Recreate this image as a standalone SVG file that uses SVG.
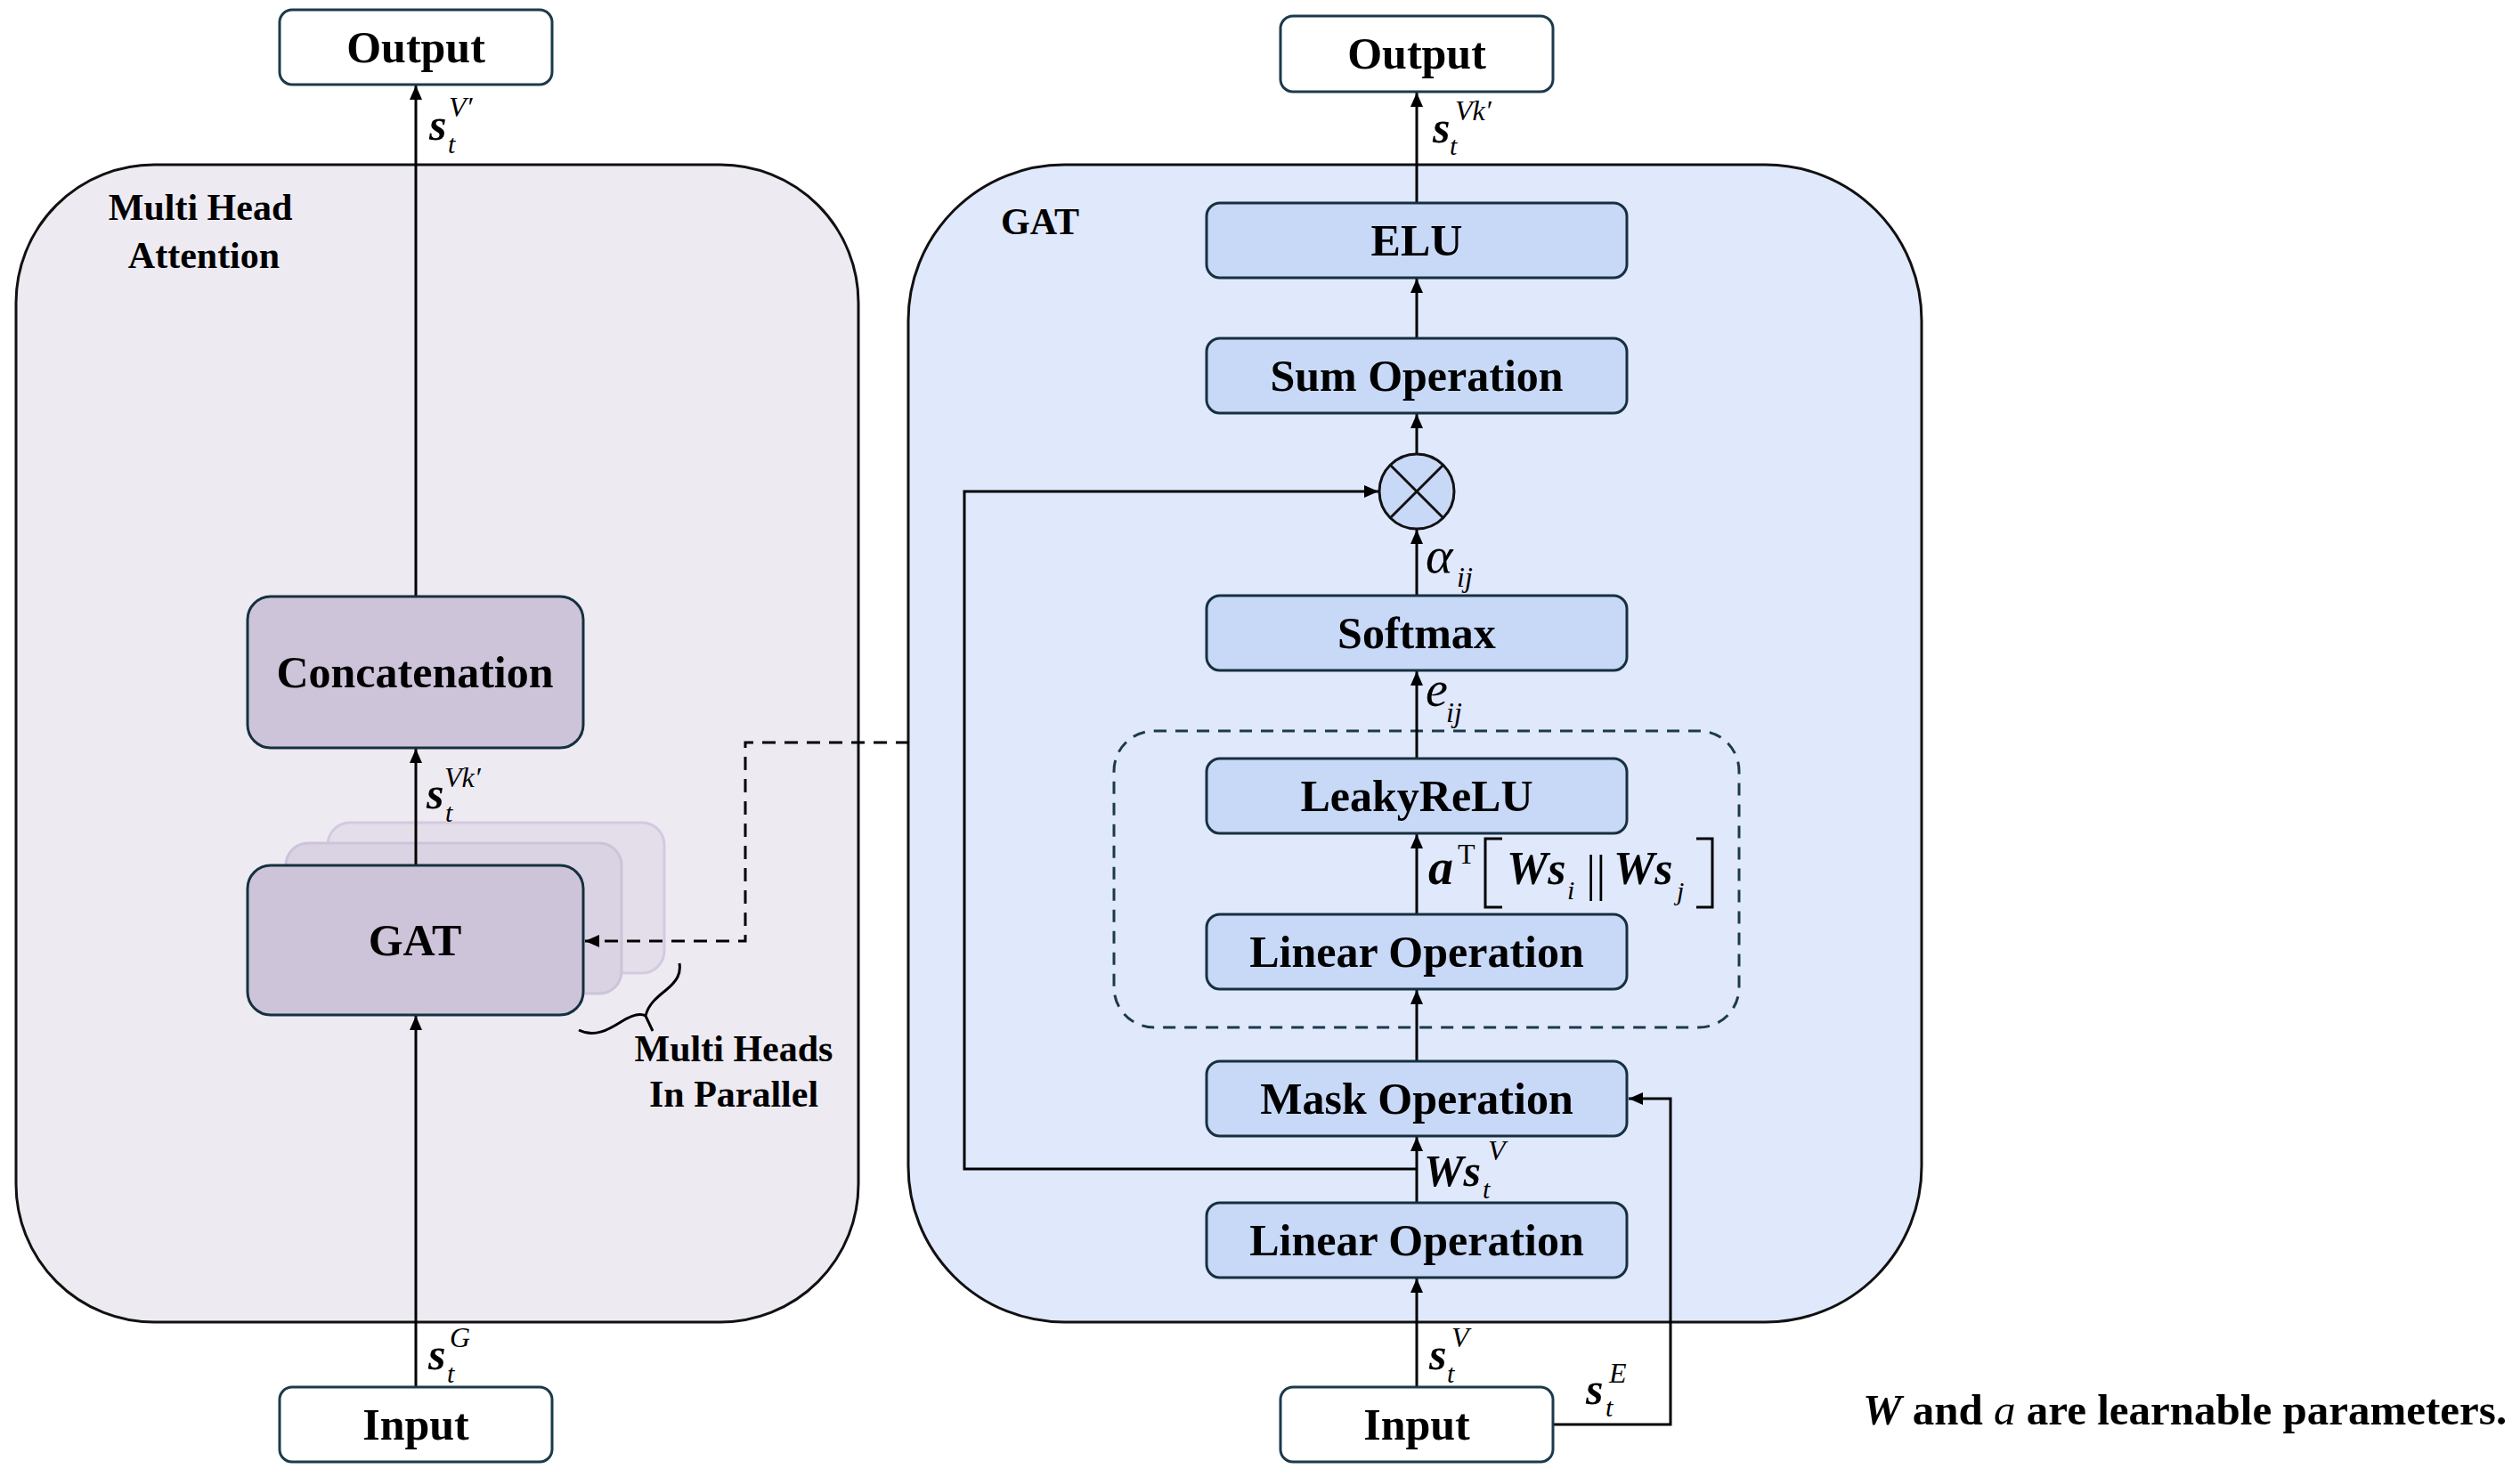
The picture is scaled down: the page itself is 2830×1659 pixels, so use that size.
<svg xmlns="http://www.w3.org/2000/svg" width="2830" height="1659" viewBox="0 0 2830 1659">
<defs>
<marker id="arr" markerUnits="userSpaceOnUse" markerWidth="16" markerHeight="14" refX="16" refY="7" orient="auto">
<path d="M0,0 L16,7 L0,14 z" fill="#000"/>
</marker>
<style>
.lbl{font-family:"Liberation Serif","Times New Roman",serif;font-weight:bold;font-size:50px;fill:#000;text-anchor:middle}
.ttl{font-family:"Liberation Serif","Times New Roman",serif;font-weight:bold;font-size:42px;fill:#000}
.m{font-family:"Liberation Serif","Times New Roman",serif;fill:#000}
.bi{font-weight:bold;font-style:italic}
.it{font-style:italic}
.io{fill:#fff;stroke:#1c3a4c;stroke-width:3}
.ln{fill:#cec4d9;stroke:#15303f;stroke-width:3}
.rn{fill:#c8d8f7;stroke:#15303f;stroke-width:3}
.con{fill:none;stroke:#000;stroke-width:3}
</style>
</defs>
<rect width="2830" height="1659" fill="#fff"/>

<g id="container-multihead">
<rect x="18" y="185" width="946" height="1300" rx="155" ry="155" fill="#edeaf2" stroke="#111" stroke-width="3"/>
<text class="ttl" x="225" y="247" text-anchor="middle">Multi Head</text>
<text class="ttl" x="229" y="301" text-anchor="middle">Attention</text>
</g>
<g id="container-gat">
<rect x="1020" y="185" width="1138" height="1300" rx="175" ry="175" fill="#e0e8fc" stroke="#111" stroke-width="3"/>
<text class="ttl" x="1124" y="263">GAT</text>
</g>
<g id="dashed-group">
<rect x="1251" y="821" width="702" height="333" rx="45" ry="45" fill="none" stroke="#1c3a4c" stroke-width="3" stroke-dasharray="14,10"/>
</g>

<g id="heads-shadow">
<rect x="368" y="924" width="378" height="169" rx="25" fill="#e4deea" stroke="#d3cadf" stroke-width="3"/>
<rect x="321" y="947" width="377" height="169" rx="25" fill="#dad3e3" stroke="#cdc3da" stroke-width="3"/>
</g>

<g id="connectors">
<line class="con" x1="467" y1="670" x2="467" y2="96" marker-end="url(#arr)"/>
<line class="con" x1="467" y1="972" x2="467" y2="841" marker-end="url(#arr)"/>
<line class="con" x1="467" y1="1558" x2="467" y2="1141" marker-end="url(#arr)"/>
<polyline class="con" points="1021,834 837,834 837,1057 657,1057" stroke-dasharray="15,10" marker-end="url(#arr)"/>
<line class="con" x1="1591" y1="228" x2="1591" y2="104" marker-end="url(#arr)"/>
<line class="con" x1="1591" y1="380" x2="1591" y2="313" marker-end="url(#arr)"/>
<line class="con" x1="1591" y1="510" x2="1591" y2="465" marker-end="url(#arr)"/>
<line class="con" x1="1591" y1="669" x2="1591" y2="595" marker-end="url(#arr)"/>
<line class="con" x1="1591" y1="852" x2="1591" y2="754" marker-end="url(#arr)"/>
<line class="con" x1="1591" y1="1027" x2="1591" y2="937" marker-end="url(#arr)"/>
<line class="con" x1="1591" y1="1192" x2="1591" y2="1112" marker-end="url(#arr)"/>
<line class="con" x1="1591" y1="1351" x2="1591" y2="1277" marker-end="url(#arr)"/>
<line class="con" x1="1591" y1="1558" x2="1591" y2="1436" marker-end="url(#arr)"/>
<polyline class="con" points="1591,1313 1083,1313 1083,552 1548,552" marker-end="url(#arr)"/>
<polyline class="con" points="1743,1600 1876,1600 1876,1234 1829,1234" marker-end="url(#arr)"/>
<path class="con" d="M650,1157 C668,1166 684,1156 697,1148 C708,1141 718,1137 725,1141 L733,1158 M725,1141 C728,1128 738,1120 748,1112 C760,1102 765,1094 763,1082"/>
</g>

<g id="left-output">
<rect class="io" x="314" y="11" width="306" height="84" rx="14"/>
<text class="lbl" x="467" y="70">Output</text>
</g>
<g id="left-concat">
<rect class="ln" x="278" y="670" width="377" height="170" rx="26"/>
<text class="lbl" x="466" y="772">Concatenation</text>
</g>
<g id="left-gat">
<rect class="ln" x="278" y="972" width="377" height="168" rx="26"/>
<text class="lbl" x="466" y="1073">GAT</text>
</g>
<g id="left-input">
<rect class="io" x="314" y="1558" width="306" height="84" rx="14"/>
<text class="lbl" x="467" y="1617">Input</text>
</g>
<g id="multi-heads-label">
<text class="ttl" x="824" y="1192" text-anchor="middle">Multi Heads</text>
<text class="ttl" x="824" y="1243" text-anchor="middle">In Parallel</text>
</g>

<g id="right-output">
<rect class="io" x="1438" y="18" width="306" height="85" rx="14"/>
<text class="lbl" x="1591" y="77">Output</text>
</g>
<g id="elu">
<rect class="rn" x="1355" y="228" width="472" height="84" rx="15"/>
<text class="lbl" x="1591" y="287">ELU</text>
</g>
<g id="sum">
<rect class="rn" x="1355" y="380" width="472" height="84" rx="15"/>
<text class="lbl" x="1591" y="439">Sum Operation</text>
</g>
<g id="multiply">
<circle cx="1591" cy="552" r="42" fill="#c8d8f7" stroke="#111" stroke-width="3"/>
<path d="M1561,522 L1621,582 M1621,522 L1561,582" stroke="#111" stroke-width="3"/>
</g>
<g id="softmax">
<rect class="rn" x="1355" y="669" width="472" height="84" rx="15"/>
<text class="lbl" x="1591" y="728">Softmax</text>
</g>
<g id="leakyrelu">
<rect class="rn" x="1355" y="852" width="472" height="84" rx="15"/>
<text class="lbl" x="1591" y="911">LeakyReLU</text>
</g>
<g id="linear1">
<rect class="rn" x="1355" y="1027" width="472" height="84" rx="15"/>
<text class="lbl" x="1591" y="1086">Linear Operation</text>
</g>
<g id="mask">
<rect class="rn" x="1355" y="1192" width="472" height="84" rx="15"/>
<text class="lbl" x="1591" y="1251">Mask Operation</text>
</g>
<g id="linear2">
<rect class="rn" x="1355" y="1351" width="472" height="84" rx="15"/>
<text class="lbl" x="1591" y="1410">Linear Operation</text>
</g>
<g id="right-input">
<rect class="io" x="1438" y="1558" width="306" height="84" rx="14"/>
<text class="lbl" x="1591" y="1617">Input</text>
</g>

<g id="math-labels">
<text class="m bi" x="482" y="157" font-size="50">s</text>
<text class="m it" x="504" y="131" font-size="32">V′</text>
<text class="m it" x="503" y="172" font-size="30">t</text>

<text class="m bi" x="479" y="908" font-size="50">s</text>
<text class="m it" x="499" y="884" font-size="32">Vk′</text>
<text class="m it" x="500" y="923" font-size="30">t</text>

<text class="m bi" x="481" y="1538" font-size="50">s</text>
<text class="m it" x="505" y="1513" font-size="32">G</text>
<text class="m it" x="502" y="1553" font-size="30">t</text>

<text class="m bi" x="1609" y="160" font-size="50">s</text>
<text class="m it" x="1634" y="135" font-size="32">Vk′</text>
<text class="m it" x="1628" y="174" font-size="30">t</text>

<text class="m it" x="1601" y="643" font-size="58">α</text>
<text class="m it" x="1636" y="659" font-size="32">ij</text>

<text class="m it" x="1601" y="793" font-size="56">e</text>
<text class="m it" x="1624" y="811" font-size="32">ij</text>

<text class="m bi" x="1604" y="993" font-size="56">a</text>
<text class="m" x="1637" y="970" font-size="32">T</text>
<path d="M1687,942 L1668,942 L1668,1019 L1687,1019 M1905,942 L1923,942 L1923,1019 L1905,1019" fill="none" stroke="#000" stroke-width="3"/>
<text class="m bi" x="1692" y="993" font-size="52">Ws</text>
<text class="m it" x="1760" y="1010" font-size="30">i</text>
<text class="m" x="1781" y="1000" font-size="56">||</text>
<text class="m bi" x="1812" y="993" font-size="52">Ws</text>
<text class="m it" x="1883" y="1011" font-size="30">j</text>

<text class="m bi" x="1599" y="1332" font-size="50">Ws</text>
<text class="m it" x="1671" y="1303" font-size="32">V</text>
<text class="m it" x="1665" y="1346" font-size="30">t</text>

<text class="m bi" x="1605" y="1538" font-size="50">s</text>
<text class="m it" x="1630" y="1513" font-size="32">V</text>
<text class="m it" x="1625" y="1553" font-size="30">t</text>

<text class="m bi" x="1781" y="1577" font-size="50">s</text>
<text class="m it" x="1807" y="1553" font-size="32">E</text>
<text class="m it" x="1803" y="1591" font-size="30">t</text>
</g>

<g id="note">
<text class="m" x="2092" y="1600" font-size="49" font-weight="bold"><tspan font-style="italic">W</tspan> and <tspan font-style="italic" font-weight="normal">a</tspan> are learnable parameters.</text>
</g>
</svg>
